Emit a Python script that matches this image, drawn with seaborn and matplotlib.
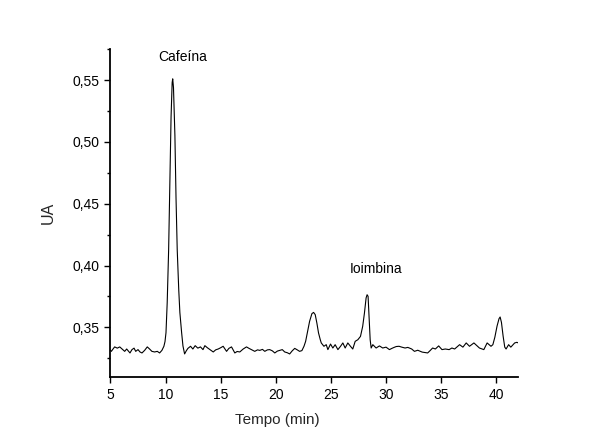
import matplotlib
matplotlib.use("Agg")
import matplotlib.pyplot as plt
from matplotlib.ticker import FixedLocator, FuncFormatter
import pandas as pd
import seaborn as sns

# Chromatogram: retention time (min) and detector response (UA)
tempo = [
    5.00, 5.08, 5.23, 5.38, 5.62, 5.84, 6.05, 6.29, 6.47, 6.65, 6.77, 6.95,
    7.14, 7.29, 7.50, 7.68, 7.86, 8.10, 8.34, 8.55, 8.76, 9.01, 9.25, 9.46,
    9.67, 9.85, 9.95, 10.04, 10.15, 10.28, 10.40, 10.50, 10.60, 10.65, 10.72,
    10.85, 10.95, 11.06, 11.20, 11.30, 11.46, 11.58, 11.73, 11.88, 12.03,
    12.27, 12.48, 12.69, 12.93, 13.17, 13.40, 13.57, 13.80, 14.03, 14.33,
    14.55, 14.78, 15.00, 15.23, 15.54, 15.75, 15.99, 16.29, 16.50, 16.74,
    17.05, 17.35, 17.58, 17.80, 18.10, 18.35, 18.56, 18.80, 19.01, 19.25,
    19.46, 19.70, 19.92, 20.15, 20.37, 20.60, 20.82, 21.05, 21.27, 21.50,
    21.73, 21.96, 22.17, 22.38, 22.57, 22.72, 22.87, 23.08, 23.29, 23.44,
    23.59, 23.74, 23.89, 24.05, 24.14, 24.38, 24.59, 24.74, 24.98, 25.19,
    25.40, 25.65, 25.89, 26.10, 26.31, 26.55, 26.79, 27.00, 27.22, 27.46,
    27.70, 27.90, 28.06, 28.21, 28.30, 28.39, 28.48, 28.58, 28.67, 28.82,
    29.12, 29.42, 29.72, 30.02, 30.33, 30.55, 30.75, 30.95, 31.20, 31.45,
    31.75, 32.00, 32.35, 32.60, 32.90, 33.30, 33.80, 34.00, 34.25, 34.50,
    34.80, 35.10, 35.40, 35.75, 36.00, 36.25, 36.70, 37.00, 37.30, 37.60,
    38.00, 38.50, 38.90, 39.20, 39.55, 39.72, 39.90, 40.10, 40.28, 40.38,
    40.50, 40.65, 40.80, 40.92, 41.15, 41.35, 41.70, 41.90, 42.00,
]
absorbancia = [
    0.3315, 0.3306, 0.3325, 0.3342, 0.3332, 0.3342, 0.3325, 0.3306, 0.3325,
    0.3306, 0.3293, 0.3320, 0.3332, 0.3306, 0.3320, 0.3301, 0.3293, 0.3314,
    0.3342, 0.3325, 0.3306, 0.3301, 0.3306, 0.3293, 0.3314, 0.3347, 0.3385,
    0.3457, 0.3700, 0.4127, 0.4700, 0.5200, 0.5480, 0.5510, 0.5440, 0.5050,
    0.4550, 0.4127, 0.3800, 0.3620, 0.3457, 0.3350, 0.3285, 0.3310, 0.3330,
    0.3347, 0.3325, 0.3352, 0.3332, 0.3342, 0.3320, 0.3352, 0.3335, 0.3320,
    0.3301, 0.3318, 0.3325, 0.3335, 0.3347, 0.3306, 0.3330, 0.3342, 0.3293,
    0.3305, 0.3301, 0.3325, 0.3342, 0.3330, 0.3320, 0.3306, 0.3318, 0.3314,
    0.3322, 0.3306, 0.3318, 0.3320, 0.3310, 0.3293, 0.3308, 0.3314, 0.3320,
    0.3301, 0.3295, 0.3285, 0.3310, 0.3330, 0.3318, 0.3306, 0.3312, 0.3347,
    0.3387, 0.3455, 0.3549, 0.3611, 0.3621, 0.3603, 0.3535, 0.3455, 0.3400,
    0.3374, 0.3347, 0.3360, 0.3320, 0.3365, 0.3333, 0.3360, 0.3320, 0.3347,
    0.3374, 0.3333, 0.3374, 0.3347, 0.3325, 0.3387, 0.3400, 0.3427, 0.3508,
    0.3616, 0.3738, 0.3764, 0.3751, 0.3589, 0.3400, 0.3333, 0.3360, 0.3333,
    0.3350, 0.3333, 0.3340, 0.3320, 0.3330, 0.3338, 0.3345, 0.3347, 0.3340,
    0.3333, 0.3338, 0.3325, 0.3306, 0.3315, 0.3300, 0.3293, 0.3310, 0.3333,
    0.3325, 0.3350, 0.3320, 0.3325, 0.3320, 0.3333, 0.3325, 0.3360, 0.3340,
    0.3374, 0.3347, 0.3374, 0.3333, 0.3320, 0.3374, 0.3347, 0.3360, 0.3420,
    0.3510, 0.3570, 0.3584, 0.3540, 0.3430, 0.3340, 0.3325, 0.3360, 0.3340,
    0.3374, 0.3379, 0.3375,
]

# Peak labels and where they sit
picos = ["Cafeína", "Ioimbina"]
picos_x = [11.58, 29.15]
picos_y = [0.569, 0.3968]

x_ticks = [5, 10, 15, 20, 25, 30, 35, 40]
y_ticks = [0.35, 0.40, 0.45, 0.50, 0.55]
y_minor = [0.325, 0.375, 0.425, 0.475, 0.525, 0.575]

sns.set_style("ticks")
plt.rcParams["font.family"] = ["Liberation Sans", "DejaVu Sans"]

df = pd.DataFrame({"Tempo (min)": tempo, "UA": absorbancia})

fig = plt.figure(figsize=(5.94, 4.47), dpi=100)
ax = fig.add_axes([0.186, 0.157, 0.686, 0.733])

sns.lineplot(data=df, x="Tempo (min)", y="UA", ax=ax, color="black",
             linewidth=0.8, sort=False, estimator=None)

ax.set_xlim(5, 42)
ax.set_ylim(0.31, 0.575)
ax.xaxis.set_major_locator(FixedLocator(x_ticks))
ax.yaxis.set_major_locator(FixedLocator(y_ticks))
ax.yaxis.set_minor_locator(FixedLocator(y_minor))
ax.yaxis.set_major_formatter(FuncFormatter(lambda v, _: f"{v:.2f}".replace(".", ",")))

for s in ["top", "right"]:
    ax.spines[s].set_visible(False)
for s in ["left", "bottom"]:
    ax.spines[s].set_linewidth(1.3)
    ax.spines[s].set_color("black")

ax.tick_params(axis="both", which="major", direction="out", length=4,
               width=1, color="black", labelsize=10, labelcolor="black", pad=4)
ax.tick_params(axis="y", which="minor", direction="out", length=2.5,
               width=1, color="black")

ax.set_xlabel("Tempo (min)", fontsize=11)
ax.xaxis.set_label_coords(0.409, -0.11)
ax.set_ylabel("UA", fontsize=11.5, labelpad=12)

for nome, px, py in zip(picos, picos_x, picos_y):
    ax.text(px, py, nome, ha="center", va="center", fontsize=10, color="black")

fig.savefig("out.png", dpi=100, facecolor="white")
